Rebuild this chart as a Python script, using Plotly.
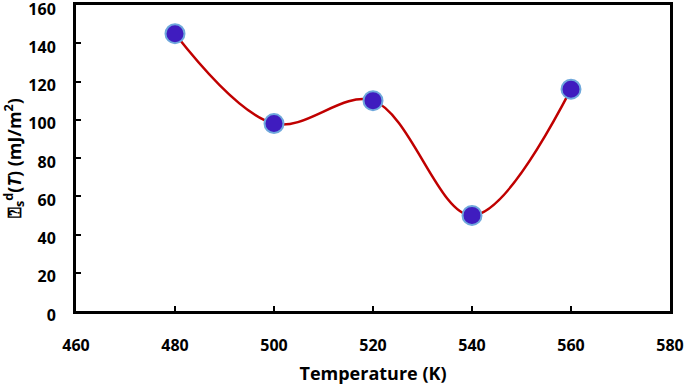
import plotly.graph_objects as go

temperature = [480, 500, 520, 540, 560]
gamma_d = [145, 98, 110, 50, 116]
x_ticks = [460, 480, 500, 520, 540, 560, 580]
y_ticks = [0, 20, 40, 60, 80, 100, 120, 140, 160]

fig = go.Figure()
fig.add_trace(go.Scatter(
    x=temperature, y=gamma_d, mode="lines+markers",
    line=dict(color="#C00000", width=2.5, shape="spline", smoothing=1.0),
    marker=dict(size=19, color="#3F1CBF", line=dict(color="#6FA8DC", width=2)),
    showlegend=False, cliponaxis=False,
))

tickfont = dict(family="Open Sans", size=16, color="black", weight="bold")
titlefont = dict(family="Open Sans", size=18, color="black", weight="bold")
fig.update_layout(
    width=685, height=385,
    margin=dict(l=76, r=15, t=5, b=74),
    paper_bgcolor="white", plot_bgcolor="white",
    font=dict(family="Open Sans", color="black"),
    xaxis=dict(
        range=[460, 580], tickvals=x_ticks, ticks="inside", ticklen=5, tickwidth=1.5,
        tickcolor="black", showgrid=False, zeroline=False, automargin=False,
        showline=True, linecolor="black", linewidth=3, mirror=True,
        tickfont=tickfont, ticklabelstandoff=18, ticklabeloverflow="allow",
        title=dict(text="Temperature (K)", font=titlefont, standoff=14),
    ),
    yaxis=dict(
        range=[0, 160], tickvals=y_ticks, ticks="inside", ticklen=5, tickwidth=1.5,
        tickcolor="black", showgrid=False, zeroline=False, automargin=False,
        showline=True, linecolor="black", linewidth=3, mirror=True,
        tickfont=tickfont, ticklabelstandoff=14, ticklabeloverflow="allow",
        ticklabelshift=4,
        title=dict(text="⍰<sub>s</sub><sup>d</sup>(<i>T</i>) (mJ/m<sup>2</sup>)",
                   font=titlefont, standoff=4),
    ),
)
fig.write_html("out.html", config={"displayModeBar": False},
               post_script="document.body.style.margin='0';")
